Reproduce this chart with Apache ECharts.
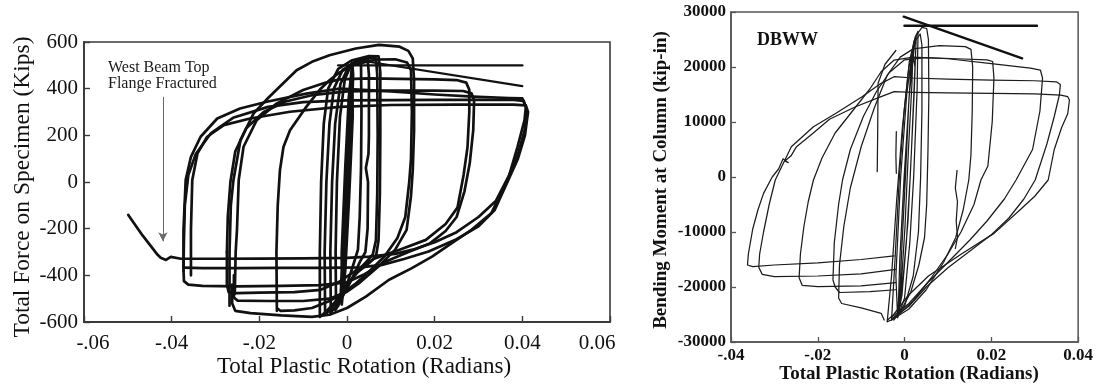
<!DOCTYPE html>
<html>
<head>
<meta charset="utf-8">
<script src="https://cdn.jsdelivr.net/npm/echarts@6/dist/echarts.min.js"></script>
<style>
  html, body { margin: 0; padding: 0; background: #fff; }
  #chart { width: 1096px; height: 385px; }
</style>
</head>
<body>
<div id="chart"></div>
<script>
// ---------- Left panel: total force vs. total plastic rotation ----------
const leftXTicks = [-0.06, -0.04, -0.02, 0, 0.02, 0.04, 0.06];
const leftXLabels = ['-.06', '-.04', '-.02', '0', '0.02', '0.04', '0.06'];
const leftYTicks = [-600, -400, -200, 0, 200, 400, 600];

// cycles: [rotation (rad), force (kips)]
const leftSmall = [
  [0.0000,0],[0.0005,240],[0.0009,430],[0.0012,495],[0.0010,400],[0.0005,160],[-0.0002,-180],[-0.0008,-420],
  [-0.0011,-505],[-0.0008,-380],[-0.0002,-90],[0.0004,240],[0.0009,450],[0.0012,510],[0.0014,460],[0.0009,190],
  [0.0002,-160],[-0.0006,-430],[-0.0012,-520],[-0.0014,-470],[-0.0008,-200],[0.0000,120],[0.0007,380],[0.0012,500],
  [0.0016,505],[0.0013,280],[0.0005,-60],[-0.0004,-380],[-0.0012,-525],[-0.0016,-530],[-0.0012,-300],[-0.0004,60],
  [0.0004,360],[0.0011,490]
];
const left03 = [
  [-0.0025,-545],[-0.0026,-300],[-0.0023,0],[-0.0016,280],[-0.0005,440],[0.0010,505],[0.0026,522],[0.0032,505],
  [0.0033,300],[0.0032,60],[0.0029,-150],[0.0025,-290],[0.0016,-345],[0.0005,-410],[-0.0008,-480],[-0.0020,-530],[-0.0027,-548]
];
const left05 = [
  [-0.0037,-555],[-0.0038,-300],[-0.0034,0],[-0.0027,250],[-0.0015,420],[0.0005,500],[0.0030,525],[0.0047,528],
  [0.0050,460],[0.0050,200],[0.0049,120],[0.0043,60],[0.0048,0],[0.0047,-200],[0.0042,-300],[0.0030,-340],
  [0.0010,-420],[-0.0010,-490],[-0.0025,-535],[-0.0038,-560]
];
const left07a = [
  [-0.0050,-565],[-0.0051,-300],[-0.0047,0],[-0.0040,250],[-0.0030,400],[-0.0010,480],[0.0020,515],[0.0050,530],
  [0.0066,530],[0.0069,460],[0.0070,200],[0.0069,-50],[0.0066,-250],[0.0059,-310],[0.0045,-340],[0.0020,-390],
  [-0.0005,-460],[-0.0025,-520],[-0.0045,-560],[-0.0052,-570]
];
const left07b = [
  [-0.0062,-578],[-0.0062,-300],[-0.0059,0],[-0.0053,250],[-0.0043,400],[-0.0020,485],[0.0010,520],[0.0050,540],
  [0.0072,538],[0.0076,470],[0.0076,200],[0.0075,-50],[0.0072,-250],[0.0066,-320],[0.0050,-348],[0.0025,-385],
  [0.0000,-440],[-0.0025,-510],[-0.0050,-560],[-0.0062,-578]
];
const left15a = [
  [-0.0160,-552],[-0.0161,-300],[-0.0158,-100],[-0.0153,50],[-0.0145,150],[-0.0130,222],[-0.0093,322],[-0.0060,400],
  [-0.0040,436],[-0.0017,470],[0.0020,505],[0.0070,525],[0.0110,526],[0.0137,512],[0.0146,480],[0.0148,300],
  [0.0146,100],[0.0142,0],[0.0133,-150],[0.0115,-240],[0.0085,-320],[0.0050,-385],[0.0020,-435],[-0.0010,-475],
  [-0.0040,-510],[-0.0080,-540],[-0.0120,-550],[-0.0152,-552],[-0.0160,-540]
];
const left15b = [
  [-0.0268,-530],[-0.0268,-300],[-0.0265,-100],[-0.0259,9],[-0.0243,180],[-0.0213,294],[-0.0180,360],[-0.0142,430],
  [-0.0115,479],[-0.0080,515],[-0.0040,543],[0.0020,572],[0.0073,588],[0.0120,580],[0.0140,562],[0.0150,530],
  [0.0153,436],[0.0153,222],[0.0150,50],[0.0146,-60],[0.0136,-205],[0.0110,-290],[0.0073,-360],[0.0030,-430],
  [0.0000,-470],[-0.0040,-500],[-0.0100,-510],[-0.0180,-510],[-0.0250,-508],[-0.0258,-495],[-0.0258,-400]
];
const left30a = [
  [-0.0256,-480],[-0.0254,-300],[-0.0251,-205],[-0.0247,9],[-0.0236,151],[-0.0206,265],[-0.0160,337],[-0.0100,394],
  [-0.0050,425],[-0.0017,440],[0.0050,444],[0.0120,442],[0.0200,440],[0.0250,437],[0.0272,426],[0.0279,395],
  [0.0279,300],[0.0275,150],[0.0266,30],[0.0252,-110],[0.0225,-180],[0.0180,-248],[0.0120,-290],[0.0060,-330],
  [0.0020,-380],[-0.0020,-430],[-0.0060,-462],[-0.0120,-472],[-0.0200,-474],[-0.0250,-476],[-0.0270,-472],
  [-0.0274,-440],[-0.0274,-300]
];
const left30b = [
  [-0.0274,-300],[-0.0272,-150],[-0.0266,0],[-0.0255,130],[-0.0230,230],[-0.0190,300],[-0.0140,345],[-0.0080,372],
  [0.0000,388],[0.0100,392],[0.0200,392],[0.0265,390],[0.0284,380],[0.0290,350],[0.0288,222],[0.0280,80],
  [0.0268,-40],[0.0250,-150],[0.0225,-210],[0.0190,-262],[0.0140,-300],[0.0090,-340],[0.0040,-395],[0.0000,-430],
  [-0.0060,-442],[-0.0150,-445],[-0.0250,-447],[-0.0330,-445],[-0.0362,-440],[-0.0372,-425],[-0.0373,-380]
];
const left40a = [
  [-0.0373,-380],[-0.0373,-205],[-0.0368,9],[-0.0356,108],[-0.0334,194],[-0.0296,272],[-0.0244,315],[-0.0183,344],
  [-0.0093,379],[-0.0017,400],[0.0100,388],[0.0200,375],[0.0300,365],[0.0370,360],[0.0400,358],[0.0408,322],
  [0.0405,265],[0.0389,151],[0.0367,9],[0.0329,-134],[0.0284,-205],[0.0239,-262],[0.0194,-320],[0.0148,-369],
  [0.0096,-419],[0.0043,-491],[0.0000,-540],[-0.0040,-569],[-0.0080,-578],[-0.0150,-572],[-0.0220,-562],
  [-0.0255,-552],[-0.0262,-520],[-0.0262,-440]
];
const left40b = [
  [-0.0356,-400],[-0.0356,-205],[-0.0353,9],[-0.0341,123],[-0.0319,194],[-0.0281,244],[-0.0221,272],[-0.0130,301],
  [-0.0017,322],[0.0100,330],[0.0250,332],[0.0380,332],[0.0408,328],[0.0413,300],[0.0406,200],[0.0390,100],
  [0.0366,0],[0.0337,-120],[0.0300,-190],[0.0250,-245],[0.0186,-298],[0.0130,-330],[0.0080,-355],[0.0030,-366],
  [-0.0050,-368],[-0.0150,-368],[-0.0250,-369],[-0.0330,-369],[-0.0373,-367]
];
// last cycle, ending in the top-flange fracture
const left40c = [
  [-0.0373,-367],[-0.0372,-250],[-0.0370,-100],[-0.0362,30],[-0.0345,120],[-0.0310,210],[-0.0260,275],[-0.0180,322],
  [-0.0100,342],[0.0000,350],[0.0200,352],[0.0380,352],[0.0403,348],[0.0410,310],[0.0405,220],[0.0390,120],
  [0.0370,30],[0.0340,-80],[0.0300,-150],[0.0250,-215],[0.0200,-258],[0.0150,-290],[0.0110,-308],[0.0050,-320],
  [0.0000,-325],[-0.0100,-327],[-0.0200,-328],[-0.0300,-329],[-0.0379,-329],[-0.0402,-321],[-0.0413,-334],
  [-0.0425,-325],[-0.0432,-312],[-0.0466,-230],[-0.0499,-141],[-0.0495,-152]
];
const leftFlat = [[-0.0020,500],[0.0400,500]];
const leftSlope = [[0.0020,524],[0.0400,411]];
const leftArrow = [[-0.042,365],[-0.042,-254]];
const leftNote = ['West Beam Top', 'Flange Fractured'];

// ---------- Right panel: DBWW bending moment vs. total plastic rotation ----------
const rightXLabels = ['-.04', '-.02', '0', '0.02', '0.04'];
const rightYTicks = [-30000, -20000, -10000, 0, 10000, 20000, 30000];

// cycles: [rotation (rad), moment (kip-in)]
const rightBundle = [
  [0.0000,-2000],[0.0007,10000],[0.0014,19000],[0.0020,24000],[0.0017,17000],[0.0009,5000],[0.0001,-9000],
  [-0.0007,-19000],[-0.0012,-24000],[-0.0007,-14000],[0.0002,0],[0.0010,14000],[0.0021,24500],[0.0027,25800],
  [0.0022,15000],[0.0013,0],[0.0004,-12000],[-0.0006,-21500],[-0.0015,-25200],[-0.0011,-15000],[-0.0001,0],
  [0.0011,15000],[0.0025,25500],[0.0031,26500],[0.0029,16000],[0.0021,0],[0.0012,-12000],[0.0000,-22000],
  [-0.0016,-25600],[-0.0020,-18000],[-0.0009,0],[0.0005,15000],[0.0018,23000],[0.0024,20000],[0.0016,5000],
  [0.0008,-8000],[-0.0003,-18000],[-0.0010,-23000]
];
const rightTallA = [
  [-0.0030,-26000],[-0.0022,-15000],[-0.0012,0],[-0.0001,12000],[0.0011,21000],[0.0025,25500],[0.0040,27200],
  [0.0051,27000],[0.0055,25000],[0.0056,15000],[0.0054,5000],[0.0051,-5000],[0.0046,-11000],[0.0033,-16000],
  [0.0014,-21000],[-0.0010,-24500],[-0.0030,-26000],[-0.0040,-26300]
];
const rightTallB = [
  [-0.0040,-26300],[-0.0030,-18000],[-0.0018,-4000],[-0.0005,9000],[0.0010,20000],[0.0025,24800],[0.0036,26000],
  [0.0040,24000],[0.0040,12000],[0.0037,0],[0.0032,-10000],[0.0020,-18000],[0.0000,-23500],[-0.0025,-26000]
];
const rightA = [
  [-0.0024,-14360],[-0.0100,-15000],[-0.0200,-15600],[-0.0300,-16000],[-0.0350,-16300],[-0.0362,-16000],
  [-0.0360,-14000],[-0.0350,-9500],[-0.0338,-6000],[-0.0325,-2970],[-0.0305,0],[-0.0290,1500],[-0.0280,3300],
  [-0.0268,2600],[-0.0276,2900],[-0.0262,3800],[-0.0249,5515],[-0.0211,7940],[-0.0173,10500],[-0.0113,12780],
  [-0.0054,14600],[-0.0024,15510],[0.0020,15400],[0.0100,15300],[0.0200,15200],[0.0300,15100],[0.0360,14900],
  [0.0376,14600],[0.0380,14000],[0.0376,11500],[0.0362,9000],[0.0345,5000],[0.0331,-545],[0.0300,-3500],
  [0.0267,-5900],[0.0207,-10200],[0.0131,-14000],[0.0055,-18000],[0.0009,-21500],[-0.0025,-25000],[-0.0039,-26000]
];
const rightB = [
  [-0.0020,-16800],[-0.0100,-17600],[-0.0200,-18000],[-0.0300,-18125],[-0.0328,-17700],[-0.0336,-16420],
  [-0.0334,-14000],[-0.0325,-10000],[-0.0312,-5000],[-0.0298,-545],[-0.0261,5510],[-0.0210,9145],[-0.0158,11580],
  [-0.0098,14600],[-0.0054,17030],[-0.0024,18230],[0.0020,18000],[0.0100,17800],[0.0200,17600],[0.0300,17500],
  [0.0350,17300],[0.0359,16800],[0.0357,15000],[0.0345,11000],[0.0328,6000],[0.0301,-545],[0.0275,-4000],
  [0.0240,-7500],[0.0200,-10500],[0.0150,-13500],[0.0100,-16500],[0.0050,-20000],[0.0010,-23500],[-0.0030,-25800]
];
const rightC = [
  [-0.0020,-19200],[-0.0100,-19800],[-0.0200,-19940],[-0.0236,-19700],[-0.0243,-18300],[-0.0240,-14000],
  [-0.0232,-9000],[-0.0222,-4500],[-0.0210,-545],[-0.0190,3500],[-0.0160,8000],[-0.0120,12000],[-0.0080,16000],
  [-0.0054,19140],[-0.0024,21270],[0.0020,21800],[0.0100,21500],[0.0200,20600],[0.0290,19800],[0.0313,19450],
  [0.0318,18000],[0.0312,12000],[0.0295,5000],[0.0257,-545],[0.0230,-4000],[0.0190,-8000],[0.0150,-11500],
  [0.0100,-15500],[0.0050,-19500],[0.0010,-23000],[-0.0030,-25500]
];
const rightD = [
  [-0.0020,-20500],[-0.0080,-20850],[-0.0150,-21000],[-0.0160,-20000],[-0.0165,-18725],[-0.0162,-12000],
  [-0.0152,-5000],[-0.0143,-545],[-0.0125,5000],[-0.0095,11000],[-0.0065,15500],[-0.0035,19000],[0.0000,21300],
  [0.0050,21700],[0.0120,21500],[0.0190,21300],[0.0203,21000],[0.0206,18000],[0.0202,10000],[0.0192,2000],
  [0.0176,-545],[0.0160,-5000],[0.0130,-10000],[0.0100,-14000],[0.0060,-18500],[0.0020,-22500],[-0.0020,-25500]
];
const rightE = [
  [-0.0047,-26000],[-0.0054,-24780],[-0.0100,-23800],[-0.0145,-23000],[-0.0152,-22000],[-0.0150,-16000],
  [-0.0140,-9000],[-0.0125,-2000],[-0.0100,5500],[-0.0070,12500],[-0.0040,18500],[-0.0010,21800],[0.0020,23300],
  [0.0080,23900],[0.0140,23700],[0.0153,23200],[0.0157,20000],[0.0156,12000],[0.0153,4000],[0.0148,-545],
  [0.0135,-6000],[0.0118,-11000],[0.0090,-15500],[0.0050,-20500],[0.0010,-24000],[-0.0030,-26000]
];
const rightStubF = [[-0.0063,960],[-0.0062,8000],[-0.0061,17030],[-0.0045,20500],[-0.0020,23000]];
const rightStubG = [[0.0121,1200],[0.0117,-2000],[0.0122,-4500],[0.0119,-8000],[0.0122,-11000],[0.0117,-13000]];
const rightStubH = [[-0.0019,670],[-0.0020,4000],[-0.0019,8240]];
const rightFlat = [[0.0000,27500],[0.0305,27500]];
const rightSlope = [[-0.0002,29150],[0.0271,21574]];
const rightTag = 'DBWW';

const SERIF = 'Liberation Serif, Times New Roman, serif';

function trace(data, side, width, color) {
  return {
    type: 'line',
    xAxisIndex: side, yAxisIndex: side,
    data: data,
    showSymbol: false, symbol: 'none',
    lineStyle: { width: width, color: color, join: 'round', cap: 'round' },
    silent: true, z: 3
  };
}

const leftCycles = [leftSmall, left03, left05, left07a, left07b, left15a, left15b,
                    left30a, left30b, left40a, left40b, left40c];
const rightCycles = [rightBundle, rightTallA, rightTallB, rightA, rightB, rightC, rightD, rightE,
                     rightStubF, rightStubG, rightStubH];

const series = [];
leftCycles.forEach(c => series.push(trace(c, 0, 2.7, '#111')));
series.push(trace(leftFlat, 0, 2.4, '#111'));
series.push(trace(leftSlope, 0, 2.2, '#111'));
rightCycles.forEach(c => series.push(trace(c, 1, 1.25, '#1c1c1c')));
series.push(trace(rightFlat, 1, 2.6, '#111'));
series.push(trace(rightSlope, 1, 2.4, '#111'));

// arrow pointing at the fracture point
series.push({
  type: 'line', xAxisIndex: 0, yAxisIndex: 0, data: [], silent: true,
  markLine: {
    silent: true, symbol: ['none', 'arrow'], symbolSize: [7, 9],
    label: { show: false },
    lineStyle: { color: '#6a6a6a', width: 1, type: 'solid' },
    data: [[{ coord: leftArrow[0] }, { coord: leftArrow[1] }]]
  }
});

const leftXLabel = v => {
  const i = Math.round((v - leftXTicks[0]) / 0.02);
  const s = leftXLabels[i];
  if (i === 0) return '{a|' + s + '}';
  if (i === leftXLabels.length - 1) return '{b|' + s + '}';
  return s;
};
const rightXLabel = v => rightXLabels[Math.round((v + 0.04) / 0.02)];
const plainNumber = v => String(Math.round(v));

const leftLabelFont = { fontFamily: SERIF, fontSize: 21, color: '#111' };
const rightLabelFont = { fontFamily: SERIF, fontSize: 17, fontWeight: 'bold', color: '#111' };

const option = {
  animation: false,
  backgroundColor: '#fff',
  grid: [
    { left: 84, top: 42, width: 526, height: 280, show: true, borderColor: '#3a3a3a', borderWidth: 1.6, backgroundColor: 'transparent' },
    { left: 731, top: 12, width: 360, height: 330, show: true, borderColor: '#555', borderWidth: 1.5, backgroundColor: 'transparent' }
  ],
  xAxis: [
    {
      type: 'value', gridIndex: 0, min: leftXTicks[0], max: leftXTicks[leftXTicks.length - 1], interval: 0.02,
      axisLine: { show: true, onZero: false, lineStyle: { color: '#3a3a3a', width: 1.8 } },
      axisTick: { show: true, inside: true, length: 6, lineStyle: { color: '#3a3a3a', width: 1.4 } },
      splitLine: { show: false },
      axisLabel: Object.assign({ margin: 11, formatter: leftXLabel,
        rich: {
          a: { fontFamily: SERIF, fontSize: 21, color: '#111', padding: [0, 0, 0, 18] },
          b: { fontFamily: SERIF, fontSize: 21, color: '#111', padding: [0, 26, 0, 0] }
        } }, leftLabelFont)
    },
    {
      type: 'value', gridIndex: 1, min: -0.04, max: 0.04, interval: 0.02,
      axisLine: { show: true, onZero: false, lineStyle: { color: '#555', width: 1.6 } },
      axisTick: { show: true, inside: true, length: 5, lineStyle: { color: '#555', width: 1.3 } },
      splitLine: { show: false },
      axisLabel: Object.assign({ margin: 5, formatter: rightXLabel }, rightLabelFont)
    }
  ],
  yAxis: [
    {
      type: 'value', gridIndex: 0, min: leftYTicks[0], max: leftYTicks[leftYTicks.length - 1], interval: 200,
      axisLine: { show: true, onZero: false, lineStyle: { color: '#3a3a3a', width: 1.8 } },
      axisTick: { show: true, inside: true, length: 6, lineStyle: { color: '#3a3a3a', width: 1.4 } },
      splitLine: { show: false },
      axisLabel: Object.assign({ margin: 6, formatter: plainNumber }, leftLabelFont)
    },
    {
      type: 'value', gridIndex: 1, min: rightYTicks[0], max: rightYTicks[rightYTicks.length - 1], interval: 10000,
      axisLine: { show: true, onZero: false, lineStyle: { color: '#555', width: 1.6 } },
      axisTick: { show: true, inside: true, length: 5, lineStyle: { color: '#555', width: 1.3 } },
      splitLine: { show: false },
      axisLabel: Object.assign({ margin: 5, formatter: plainNumber }, rightLabelFont)
    }
  ],
  graphic: [
    { type: 'text', x: 23, y: 187, rotation: Math.PI / 2,
      style: { text: 'Total Force on Specimen (Kips)', x: 0, y: 0, align: 'center', verticalAlign: 'middle',
               font: '23.5px ' + SERIF, fill: '#111' } },
    { type: 'text', x: 364, y: 367,
      style: { text: 'Total Plastic Rotation (Radians)', x: 0, y: 0, align: 'center', verticalAlign: 'middle',
               font: '23px ' + SERIF, fill: '#111' } },
    { type: 'text', x: 108, y: 68,
      style: { text: leftNote[0], x: 0, y: 0, align: 'left', verticalAlign: 'middle',
               font: '16px ' + SERIF, fill: '#1a1a1a' } },
    { type: 'text', x: 108, y: 84,
      style: { text: leftNote[1], x: 0, y: 0, align: 'left', verticalAlign: 'middle',
               font: '16px ' + SERIF, fill: '#1a1a1a' } },
    { type: 'text', x: 661, y: 180, rotation: Math.PI / 2,
      style: { text: 'Bending Moment at Column (kip-in)', x: 0, y: 0, align: 'center', verticalAlign: 'middle',
               font: 'bold 19px ' + SERIF, fill: '#111' } },
    { type: 'text', x: 909, y: 374,
      style: { text: 'Total Plastic Rotation (Radians)', x: 0, y: 0, align: 'center', verticalAlign: 'middle',
               font: 'bold 19px ' + SERIF, fill: '#111' } },
    { type: 'text', x: 757, y: 40,
      style: { text: rightTag, x: 0, y: 0, align: 'left', verticalAlign: 'middle',
               font: 'bold 18px ' + SERIF, fill: '#111' } }
  ],
  series: series
};

const chart = echarts.init(document.getElementById('chart'), null, { renderer: 'canvas' });
chart.setOption(option);
</script>
</body>
</html>
